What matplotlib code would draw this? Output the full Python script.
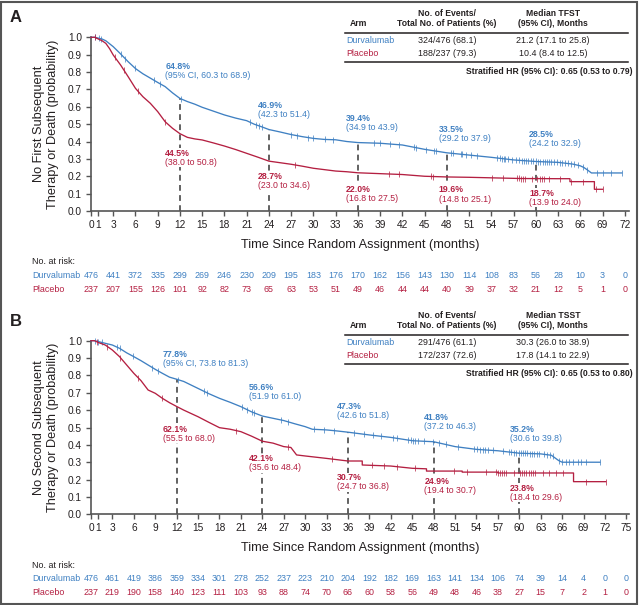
import numpy as np
import matplotlib
matplotlib.use("Agg")
import matplotlib.pyplot as plt
from matplotlib.lines import Line2D
from matplotlib.patches import Rectangle
from matplotlib.transforms import blended_transform_factory

BLUE = "#3f80c2"
RED = "#b41f41"
DARK = "#231f20"
AXC = "#555555"
SANS = ["Liberation Sans", "DejaVu Sans"]

W, H = 639, 605

# ---------------- Panel A : TFST ----------------
a_durva_t = [0, 0.5, 1, 1.5, 2, 3, 4, 5, 6, 7, 8, 9, 10, 11, 12, 13, 14, 15, 16.5, 18,
             19.5, 21, 22, 23, 24, 25.5, 27, 28.5, 30, 31.5, 33, 34.5, 36, 39, 42, 45, 48,
             51, 54, 57, 60, 63, 65, 66, 66.5, 67, 67.5, 71.6]
a_durva_s = [1, 1, 0.995, 0.99, 0.98, 0.946, 0.904, 0.86, 0.82, 0.79, 0.765, 0.74, 0.716,
             0.68, 0.648, 0.63, 0.615, 0.597, 0.575, 0.553, 0.535, 0.52, 0.50, 0.485, 0.469,
             0.455, 0.44, 0.428, 0.418, 0.412, 0.41, 0.40, 0.394, 0.39, 0.38, 0.355, 0.335,
             0.322, 0.309, 0.294, 0.285, 0.28, 0.27, 0.26, 0.25, 0.235, 0.219, 0.219]
a_plac_t = [0, 0.5, 1, 1.5, 2, 2.5, 3, 4, 5, 6, 7, 8, 9, 10, 11, 12, 13, 14, 15, 16.5, 18,
            19.5, 21, 22.5, 24, 25.5, 27, 28.5, 30, 31.5, 33, 34.5, 36, 39, 42, 45, 48, 51,
            55, 58, 63, 64.6, 64.6, 67.9, 67.9, 69]
a_plac_s = [1, 1, 0.99, 0.98, 0.965, 0.935, 0.898, 0.84, 0.774, 0.706, 0.658, 0.62, 0.572,
            0.514, 0.476, 0.445, 0.424, 0.415, 0.409, 0.392, 0.374, 0.354, 0.332, 0.31, 0.287,
            0.278, 0.269, 0.258, 0.246, 0.238, 0.23, 0.226, 0.22, 0.215, 0.21, 0.2, 0.196,
            0.194, 0.19, 0.187, 0.186, 0.186, 0.169, 0.169, 0.125, 0.125]
a_durva_cens = [0.5, 1.1, 1.4, 4.0, 4.6, 5.9, 8.5, 9.3, 12.2, 21.4, 22.3, 22.7, 23.0, 27.0, 27.8,
                29.3, 30.0, 31.5, 32.7, 38.2, 39.0, 40.3, 41.5, 43.5, 43.8, 45.2, 46.3, 46.6,
                48.5, 48.8, 49.9, 50.1, 50.6, 51.2, 52.1, 54.8, 55.1, 55.4, 55.7, 55.9, 56.3,
                56.8, 57.3, 57.7, 58.1, 58.4, 58.7, 59.0, 59.3, 59.6, 60.0, 60.3, 60.6, 60.9,
                61.2, 61.5, 61.8, 62.1, 62.4, 62.8, 63.2, 63.5, 63.9, 64.3, 64.8, 65.2, 65.7,
                66.4, 66.9, 68.2, 69.1, 70.2, 71.6]
a_plac_cens = [0.5, 3.2, 4.4, 6.3, 10.0, 27.5, 40.2, 41.5, 45.8, 46.1, 54.1, 55.6, 57.4, 57.7,
               58.0, 58.3, 58.6, 59.5, 60.2, 60.5, 60.8, 61.1, 61.8, 63.3, 64.8, 66.4, 68.1, 69.0]
a_ticks = [0, 1] + list(range(3, 73, 3))
a_risk_t = list(range(0, 73, 3))
a_risk_durva = [476, 441, 372, 335, 299, 269, 246, 230, 209, 195, 183, 176, 170, 162, 156,
                143, 130, 114, 108, 83, 56, 28, 10, 3, 0]
a_risk_plac = [237, 207, 155, 126, 101, 92, 82, 73, 65, 63, 53, 51, 49, 46, 44, 44, 40, 39,
               37, 32, 21, 12, 5, 1, 0]
a_landmarks = [12, 24, 36, 48, 60]
a_durva_pct = ["64.8%", "46.9%", "39.4%", "33.5%", "28.5%"]
a_durva_ci = ["(95% CI, 60.3 to 68.9)", "(42.3 to 51.4)", "(34.9 to 43.9)",
              "(29.2 to 37.9)", "(24.2 to 32.9)"]
a_durva_val = [0.648, 0.469, 0.394, 0.335, 0.285]
a_plac_pct = ["44.5%", "28.7%", "22.0%", "19.6%", "18.7%"]
a_plac_ci = ["(38.0 to 50.8)", "(23.0 to 34.6)", "(16.8 to 27.5)", "(14.8 to 25.1)",
             "(13.9 to 24.0)"]
a_table = [["Durvalumab", "324/476 (68.1)", "21.2 (17.1 to 25.8)"],
           ["Placebo", "188/237 (79.3)", "10.4 (8.4 to 12.5)"]]
a_hr = "Stratified HR (95% CI): 0.65 (0.53 to 0.79)"

# ---------------- Panel B : TSST ----------------
b_durva_t = [0, 0.5, 1, 2, 3, 4, 5, 6, 7, 8, 9, 10, 11, 12, 13, 14, 15, 16.5, 18, 19.5, 21,
             22.5, 24, 25.5, 27, 28.5, 30, 31, 33, 34.5, 36, 39, 42, 45, 48, 51, 54, 57, 60,
             63, 64.5, 65, 65.5, 66, 71.3]
b_durva_s = [1, 1, 0.995, 0.985, 0.975, 0.956, 0.93, 0.908, 0.885, 0.86, 0.835, 0.812, 0.79,
             0.778, 0.765, 0.745, 0.725, 0.695, 0.668, 0.645, 0.62, 0.59, 0.566, 0.553, 0.54,
             0.522, 0.505, 0.49, 0.486, 0.48, 0.473, 0.457, 0.443, 0.424, 0.418, 0.39, 0.374,
             0.366, 0.352, 0.348, 0.34, 0.325, 0.31, 0.30, 0.30]
b_plac_t = [0, 0.5, 1, 2, 3, 4, 5, 6, 7, 8, 9, 10, 11, 12, 13, 15, 16.5, 18, 19.5, 21, 22.5,
            24, 25.5, 27, 28, 28.8, 30, 33, 36, 38, 38, 42, 45, 47, 47, 52, 52, 57, 57, 67.6,
            67.6, 72.1]
b_plac_s = [1, 1, 0.99, 0.975, 0.946, 0.908, 0.86, 0.812, 0.77, 0.716, 0.697, 0.668, 0.643,
            0.621, 0.60, 0.562, 0.53, 0.499, 0.49, 0.476, 0.45, 0.421, 0.41, 0.39, 0.385,
            0.342, 0.336, 0.322, 0.307, 0.307, 0.284, 0.278, 0.265, 0.262, 0.249, 0.249,
            0.243, 0.243, 0.238, 0.238, 0.188, 0.188]
b_durva_cens = [0.6, 1.0, 1.5, 3.7, 4.0, 5.9, 8.6, 9.4, 12.2, 15.8, 16.3, 21.2, 21.9, 22.6,
                22.9, 26.6, 27.6, 31.2, 32.7, 34.1, 36.9, 38.3, 39.5, 40.6, 42.3, 42.8, 44.4,
                44.8, 45.1, 45.4, 45.8, 46.7, 47.9, 48.8, 49.7, 51.4, 53.7, 54.1, 54.5, 54.9,
                55.2, 55.6, 56.3, 57.7, 58.6, 58.9, 59.2, 59.5, 59.9, 60.2, 60.5, 60.8, 61.1,
                61.5, 61.8, 62.1, 62.5, 62.8, 63.5, 63.9, 64.3, 64.7, 65.6, 66.0, 66.5, 67.0,
                67.5, 68.2, 68.7, 69.4, 71.3]
b_plac_cens = [0.8, 2.3, 4.1, 6.6, 10.0, 20.3, 27.6, 33.7, 39.4, 41.0, 42.9, 45.4, 50.8, 52.7,
               55.3, 56.7, 57.0, 57.3, 57.6, 57.9, 58.1, 59.3, 60.1, 60.4, 60.7, 61.0, 61.3,
               61.6, 61.9, 62.2, 63.3, 64.2, 65.1, 66.1, 69.3, 72.1]
b_ticks = [0, 1] + list(range(3, 76, 3))
b_risk_t = list(range(0, 76, 3))
b_risk_durva = [476, 461, 419, 386, 359, 334, 301, 278, 252, 237, 223, 210, 204, 192, 182,
                169, 163, 141, 134, 106, 74, 39, 14, 4, 0, 0]
b_risk_plac = [237, 219, 190, 158, 140, 123, 111, 103, 93, 88, 74, 70, 66, 60, 58, 56, 49, 48,
               46, 38, 27, 15, 7, 2, 1, 0]
b_landmarks = [12, 24, 36, 48, 60]
b_durva_pct = ["77.8%", "56.6%", "47.3%", "41.8%", "35.2%"]
b_durva_ci = ["(95% CI, 73.8 to 81.3)", "(51.9 to 61.0)", "(42.6 to 51.8)",
              "(37.2 to 46.3)", "(30.6 to 39.8)"]
b_durva_val = [0.778, 0.566, 0.473, 0.418, 0.352]
b_plac_pct = ["62.1%", "42.1%", "30.7%", "24.9%", "23.8%"]
b_plac_ci = ["(55.5 to 68.0)", "(35.6 to 48.4)", "(24.7 to 36.8)", "(19.4 to 30.7)",
             "(18.4 to 29.6)"]
b_table = [["Durvalumab", "291/476 (61.1)", "30.3 (26.0 to 38.9)"],
           ["Placebo", "172/237 (72.6)", "17.8 (14.1 to 22.9)"]]
b_hr = "Stratified HR (95% CI): 0.65 (0.53 to 0.80)"

# label anchor positions (months, probability) - layout only
a_lab_x = [10.0, 22.5, 34.4, 46.9, 59.1]
a_lab_yd = [0.83, 0.606, 0.534, 0.472, 0.443]
a_lab_yp = [0.332, 0.197, 0.125, 0.121, 0.102]
b_lab_x = [10.1, 22.1, 34.5, 46.7, 58.7]
b_lab_yd = [0.92, 0.73, 0.62, 0.559, 0.491]
b_lab_yp = [0.49, 0.32, 0.211, 0.188, 0.15]


def fx(x):
    return x / W


def fy(y):
    return 1 - y / H


def draw_panel(fig, top, bottom, xlim, d):
    ax = fig.add_axes([fx(91), fy(bottom), fx(628.5) - fx(91), (bottom - top) / H])
    ax.set_xlim(0, xlim)
    ax.set_ylim(0, 1.0)
    for s in ["top", "right"]:
        ax.spines[s].set_visible(False)
    for s in ["left", "bottom"]:
        ax.spines[s].set_color(AXC)
        ax.spines[s].set_linewidth(1.2)
    ax.set_xticks(d["ticks"])
    ax.set_yticks(np.arange(0, 1.01, 0.1))
    ax.set_yticklabels([f"{v:.1f}" for v in np.arange(0, 1.01, 0.1)])
    ax.tick_params(direction="out", length=3.5, width=1, color=AXC, labelcolor=DARK,
                   labelsize=7.3, pad=3)
    for lab in ax.get_xticklabels() + ax.get_yticklabels():
        lab.set_family(SANS)

    # dashed landmark lines
    for lm, v in zip(d["landmarks"], d["durva_val"]):
        ax.plot([lm, lm], [0, v], ls=(0, (3.2, 2.4)), color=AXC, lw=1.3, zorder=1)

    # curves
    for t, s, cens, c in [(d["durva_t"], d["durva_s"], d["durva_cens"], BLUE),
                          (d["plac_t"], d["plac_s"], d["plac_cens"], RED)]:
        ax.plot(t, s, color=c, lw=0.95, zorder=3, clip_on=False)
        cy = np.interp(cens, t, s)
        ax.plot(cens, cy, ls="none", marker="|", ms=4.3, mew=0.6, color=c, zorder=3,
                clip_on=False, alpha=0.85)

    # landmark labels
    bb = dict(facecolor="white", edgecolor="none", pad=0.3)
    dy = 0.052
    for i in range(len(d["landmarks"])):
        x = d["lab_x"][i]
        ax.text(x, d["lab_yd"][i], d["durva_pct"][i], color=BLUE, fontsize=6.3,
                fontweight="bold", family=SANS, ha="left", va="center", zorder=5)
        ax.text(x, d["lab_yd"][i] - dy, d["durva_ci"][i], color=BLUE, fontsize=6.3,
                family=SANS, ha="left", va="center", zorder=5)
        ax.text(x, d["lab_yp"][i], d["plac_pct"][i], color=RED, fontsize=6.3,
                fontweight="bold", family=SANS, ha="left", va="center", zorder=5, bbox=bb)
        ax.text(x, d["lab_yp"][i] - dy, d["plac_ci"][i], color=RED, fontsize=6.3,
                family=SANS, ha="left", va="center", zorder=5, bbox=bb)

    # number at risk
    tr = blended_transform_factory(ax.transData, fig.transFigure)
    yr0 = bottom + 51
    fig.text(fx(32), fy(yr0), "No. at risk:", fontsize=6.4, family=SANS, color=DARK,
             va="center")
    fig.text(fx(32), fy(yr0 + 13.5), "Durvalumab", fontsize=6.4, family=SANS, color=BLUE,
             va="center")
    fig.text(fx(32), fy(yr0 + 27.5), "Placebo", fontsize=6.4, family=SANS, color=RED,
             va="center")
    for t, n1, n2 in zip(d["risk_t"], d["risk_durva"], d["risk_plac"]):
        ax.text(t, fy(yr0 + 13.5), str(n1), transform=tr, fontsize=6.4, family=SANS,
                color=BLUE, ha="center", va="center")
        ax.text(t, fy(yr0 + 27.5), str(n2), transform=tr, fontsize=6.4, family=SANS,
                color=RED, ha="center", va="center")

    # axis labels
    fig.text(fx(46), fy((top + bottom) / 2), d["ylabel"], rotation=90, ha="center",
             va="center", multialignment="center", fontsize=9.2, family=SANS,
             color=DARK, linespacing=1.15)
    fig.text(fx(360), fy(bottom + 34), "Time Since Random Assignment (months)",
             ha="center", va="center", fontsize=9.2, family=SANS, color=DARK)
    return ax


def draw_table(fig, y0, table, median_label, hr):
    kw = dict(fontsize=6.2, family=SANS, color=DARK, va="center")
    fig.text(fx(350), fy(y0 + 10.5), "Arm", fontweight="bold", **kw)
    fig.text(fx(447), fy(y0), "No. of Events/", ha="center", fontweight="bold", **kw)
    fig.text(fx(447), fy(y0 + 10.5), "Total No. of Patients (%)", ha="center",
             fontweight="bold", **kw)
    fig.text(fx(553), fy(y0), median_label, ha="center", fontweight="bold", **kw)
    fig.text(fx(553), fy(y0 + 10.5), "(95% CI), Months", ha="center", fontweight="bold",
             **kw)
    fig.add_artist(Line2D([fx(345), fx(628)], [fy(y0 + 19.5)] * 2, color=DARK, lw=1.1))
    for i, (arm, ev, med) in enumerate(table):
        y = y0 + 27.5 + 13.3 * i
        c = BLUE if i == 0 else RED
        fig.text(fx(346), fy(y), arm, fontsize=6.4, family=SANS, color=c, va="center")
        fig.text(fx(447), fy(y), ev, fontsize=6.4, family=SANS, color=DARK, va="center",
                 ha="center")
        fig.text(fx(553), fy(y), med, fontsize=6.4, family=SANS, color=DARK, va="center",
                 ha="center")
    fig.add_artist(Line2D([fx(345), fx(628)], [fy(y0 + 48.5)] * 2, color=DARK, lw=1.1))
    fig.text(fx(633), fy(y0 + 59), hr, ha="right", fontweight="bold", **kw)


fig = plt.figure(figsize=(W / 100, H / 100), dpi=100)

panel_a = dict(durva_t=a_durva_t, durva_s=a_durva_s, plac_t=a_plac_t, plac_s=a_plac_s,
               durva_cens=a_durva_cens, plac_cens=a_plac_cens, ticks=a_ticks,
               risk_t=a_risk_t, risk_durva=a_risk_durva, risk_plac=a_risk_plac,
               landmarks=a_landmarks, durva_pct=a_durva_pct, durva_ci=a_durva_ci,
               durva_val=a_durva_val, plac_pct=a_plac_pct, plac_ci=a_plac_ci,
               lab_x=a_lab_x, lab_yd=a_lab_yd, lab_yp=a_lab_yp,
               ylabel="No First Subsequent\nTherapy or Death (probability)")
panel_b = dict(durva_t=b_durva_t, durva_s=b_durva_s, plac_t=b_plac_t, plac_s=b_plac_s,
               durva_cens=b_durva_cens, plac_cens=b_plac_cens, ticks=b_ticks,
               risk_t=b_risk_t, risk_durva=b_risk_durva, risk_plac=b_risk_plac,
               landmarks=b_landmarks, durva_pct=b_durva_pct, durva_ci=b_durva_ci,
               durva_val=b_durva_val, plac_pct=b_plac_pct, plac_ci=b_plac_ci,
               lab_x=b_lab_x, lab_yd=b_lab_yd, lab_yp=b_lab_yp,
               ylabel="No Second Subsequent\nTherapy or Death (probability)")

draw_panel(fig, 37.3, 211.0, 72.5, panel_a)
draw_panel(fig, 340.7, 514.3, 75.3, panel_b)

draw_table(fig, 13, a_table, "Median TFST", a_hr)
draw_table(fig, 315, b_table, "Median TSST", b_hr)

fig.text(fx(10), fy(18), "A", fontsize=12, fontweight="bold", family=SANS, color=DARK,
         va="center")
fig.text(fx(10), fy(321), "B", fontsize=12, fontweight="bold", family=SANS, color=DARK,
         va="center")

fig.add_artist(Rectangle((0.5 / W, 1.5 / H), 1 - 2.5 / W, 1 - 3 / H, fill=False,
                         edgecolor=AXC, lw=1.5, transform=fig.transFigure))

fig.savefig("out.png", dpi=100)
